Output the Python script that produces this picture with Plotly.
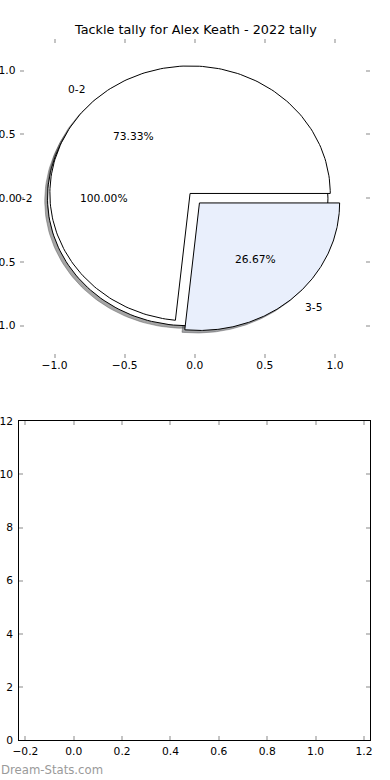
import numpy as np
import plotly.graph_objects as go

# ---- data ----
title_text = "Tackle tally for Alex Keath - 2022 tally"
pie_a_labels = ["0-2"]
pie_a_values = [15]
pie_b_labels = ["0-2", "3-5"]
pie_b_values = [11, 4]
pie_b_colors = ["#ffffff", "#e9effc"]
pie_a_colors = ["#ffffff"]
explode = 0.05
top_ticks = [-1.0, -0.5, 0.0, 0.5, 1.0]
bottom_xticks = [-0.2, 0.0, 0.2, 0.4, 0.6, 0.8, 1.0, 1.2]
bottom_yticks = [0, 2, 4, 6, 8, 10, 12]
watermark = "Dream-Stats.com"

W, H = 390, 780
FONT = "DejaVu Sans"
TICKFONT = dict(family=FONT, size=10.7, color="#000000")


def fmt(v, nd=1):
    s = f"{abs(v):.{nd}f}"
    return ("\u2212" + s) if v < 0 else s


def wedge_pts(cx, cy, t1, t2, r=1.0, n=200):
    th = np.radians(np.linspace(t1, t2, n))
    xs = cx + r * np.cos(th)
    ys = cy + r * np.sin(th)
    if abs((t2 - t1) - 360) < 1e-9:
        return list(xs), list(ys)
    return [cx] + list(xs) + [cx], [cy] + list(ys) + [cy]


def pie_geometry(values):
    tot = float(sum(values))
    out = []
    t = 0.0
    for v in values:
        frac = v / tot
        t2 = t + 360.0 * frac
        mid = np.radians((t + t2) / 2)
        cx, cy = explode * np.cos(mid), explode * np.sin(mid)
        out.append((t, t2, cx, cy, mid, frac))
        t = t2
    return out


def shade(hexcol):
    h = hexcol.lstrip("#")
    r, g, b = (int(h[i:i + 2], 16) for i in (0, 2, 4))
    return f"rgba({int(.3*r)},{int(.3*g)},{int(.3*b)},0.5)"


fig = go.Figure()
annotations = []

pies = [(pie_a_labels, pie_a_values, pie_a_colors), (pie_b_labels, pie_b_values, pie_b_colors)]
geoms = [pie_geometry(v) for _, v, _ in pies]

# shadows first (behind everything)
for (labels, values, colors), geom in zip(pies, geoms):
    for (t1, t2, cx, cy, mid, frac), col in zip(geom, colors):
        xs, ys = wedge_pts(cx - 0.02, cy - 0.02, t1, t2)
        fig.add_trace(go.Scatter(x=xs, y=ys, mode="lines", fill="toself",
                                 fillcolor=shade(col), line=dict(color=shade(col), width=0.8),
                                 hoverinfo="skip", showlegend=False, xaxis="x", yaxis="y"))

# wedges
for (labels, values, colors), geom in zip(pies, geoms):
    for (t1, t2, cx, cy, mid, frac), col, lab in zip(geom, colors, labels):
        xs, ys = wedge_pts(cx, cy, t1, t2)
        fig.add_trace(go.Scatter(x=xs, y=ys, mode="lines", fill="toself",
                                 fillcolor=col, line=dict(color="#000000", width=1),
                                 hoverinfo="skip", showlegend=False, xaxis="x", yaxis="y"))
        lx, ly = cx + 1.1 * np.cos(mid), cy + 1.1 * np.sin(mid)
        annotations.append(dict(x=lx, y=ly, xref="x", yref="y", text=lab, showarrow=False,
                                xanchor="left" if lx > 0 else "right", yanchor="middle",
                                font=TICKFONT))
        px, py = cx + 0.6 * np.cos(mid), cy + 0.6 * np.sin(mid)
        annotations.append(dict(x=px, y=py, xref="x", yref="y", text=f"{frac*100:.2f}%",
                                showarrow=False, xanchor="center", yanchor="middle",
                                font=TICKFONT))

# empty bottom axes
fig.add_trace(go.Scatter(x=[], y=[], xaxis="x2", yaxis="y2", showlegend=False))

tick_common = dict(ticks="inside", ticklen=4, tickwidth=1.6, tickcolor="#c4c4c4",
                   showgrid=False, zeroline=False, tickfont=TICKFONT, mirror="ticks",
                   automargin=False)

fig.update_layout(
    width=W, height=H, margin=dict(l=0, r=0, t=0, b=0, autoexpand=False),
    paper_bgcolor="white", plot_bgcolor="white",
    xaxis=dict(domain=[19.5 / W, 370 / W], range=[-1.25, 1.25], anchor="y",
               tickvals=top_ticks, ticktext=[fmt(v) for v in top_ticks],
               showline=False, **tick_common),
    yaxis=dict(domain=[1 - 357.6 / H, 1 - 38.8 / H], range=[-1.25, 1.25], anchor="x",
               tickvals=top_ticks, ticktext=[fmt(v) for v in top_ticks],
               showline=False, ticklabelstandoff=3, **tick_common),
    xaxis2=dict(domain=[19.3 / W, 370 / W], range=[-0.225, 1.225], anchor="y2",
                tickvals=bottom_xticks, ticktext=[fmt(v) for v in bottom_xticks],
                showline=True, linecolor="#000000", linewidth=1.3, ticklabelstandoff=1,
                **tick_common),
    yaxis2=dict(domain=[1 - 740 / H, 1 - 421.3 / H], range=[0, 12], anchor="x2",
                tickvals=bottom_yticks, ticktext=[str(v) for v in bottom_yticks],
                showline=True, linecolor="#000000", linewidth=1.3, ticklabelstandoff=3,
                **tick_common),
    annotations=annotations + [
        dict(x=195 / W, y=1 - 30 / H, xref="paper", yref="paper", text=title_text,
             showarrow=False, xanchor="center", yanchor="middle",
             font=dict(family=FONT, size=12.8, color="#000000")),
        dict(x=-1 / W, y=1 - 770 / H, xref="paper", yref="paper", text=watermark,
             showarrow=False, xanchor="left", yanchor="middle",
             font=dict(family=FONT, size=11.7, color="#9a9a9a")),
    ],
)

fig.write_html("out.html")
